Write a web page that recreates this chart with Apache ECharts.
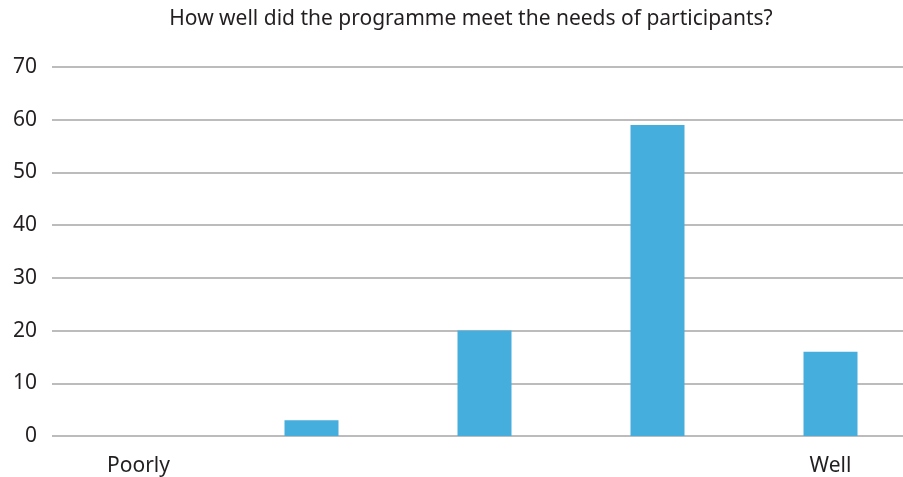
<!DOCTYPE html>
<html>
<head>
<meta charset="utf-8">
<script src="https://cdn.jsdelivr.net/npm/echarts@6/dist/echarts.min.js"></script>
<style>html,body{margin:0;padding:0;background:#fff;overflow:hidden}#c{width:917px;height:477px}</style>
</head>
<body>
<div id="c"></div>
<script>
const categories = ['Poorly', '', '', '', 'Well'];
const values = [0, 3, 20, 59, 16];
const titleText = 'How well did the programme meet the needs of participants?';

const chart = echarts.init(document.getElementById('c'));
chart.setOption({
  animation: false,
  title: {
    text: titleText,
    left: 466, top: 4, textAlign: 'center',
    textStyle: { fontFamily: 'Noto Sans', fontSize: 21, fontWeight: 'normal', color: '#231f20' }
  },
  grid: { left: 52, right: 0, top: 67, bottom: 41, containLabel: false },
  xAxis: {
    type: 'category', data: categories,
    axisLine: { show: false }, axisTick: { show: false },
    axisLabel: { margin: 20, fontFamily: 'Noto Sans', fontSize: 21, color: '#231f20', interval: 0 }
  },
  yAxis: {
    type: 'value', min: 0, max: 70, interval: 10,
    axisLine: { show: false }, axisTick: { show: false },
    axisLabel: { margin: 15, fontFamily: 'Noto Sans', fontSize: 21, color: '#231f20' },
    splitLine: { lineStyle: { color: '#bcbcbc', width: 2 } }
  },
  series: [{
    type: 'bar', data: values, barWidth: 54,
    itemStyle: { color: '#45aedd' }
  }]
});
</script>
</body>
</html>
